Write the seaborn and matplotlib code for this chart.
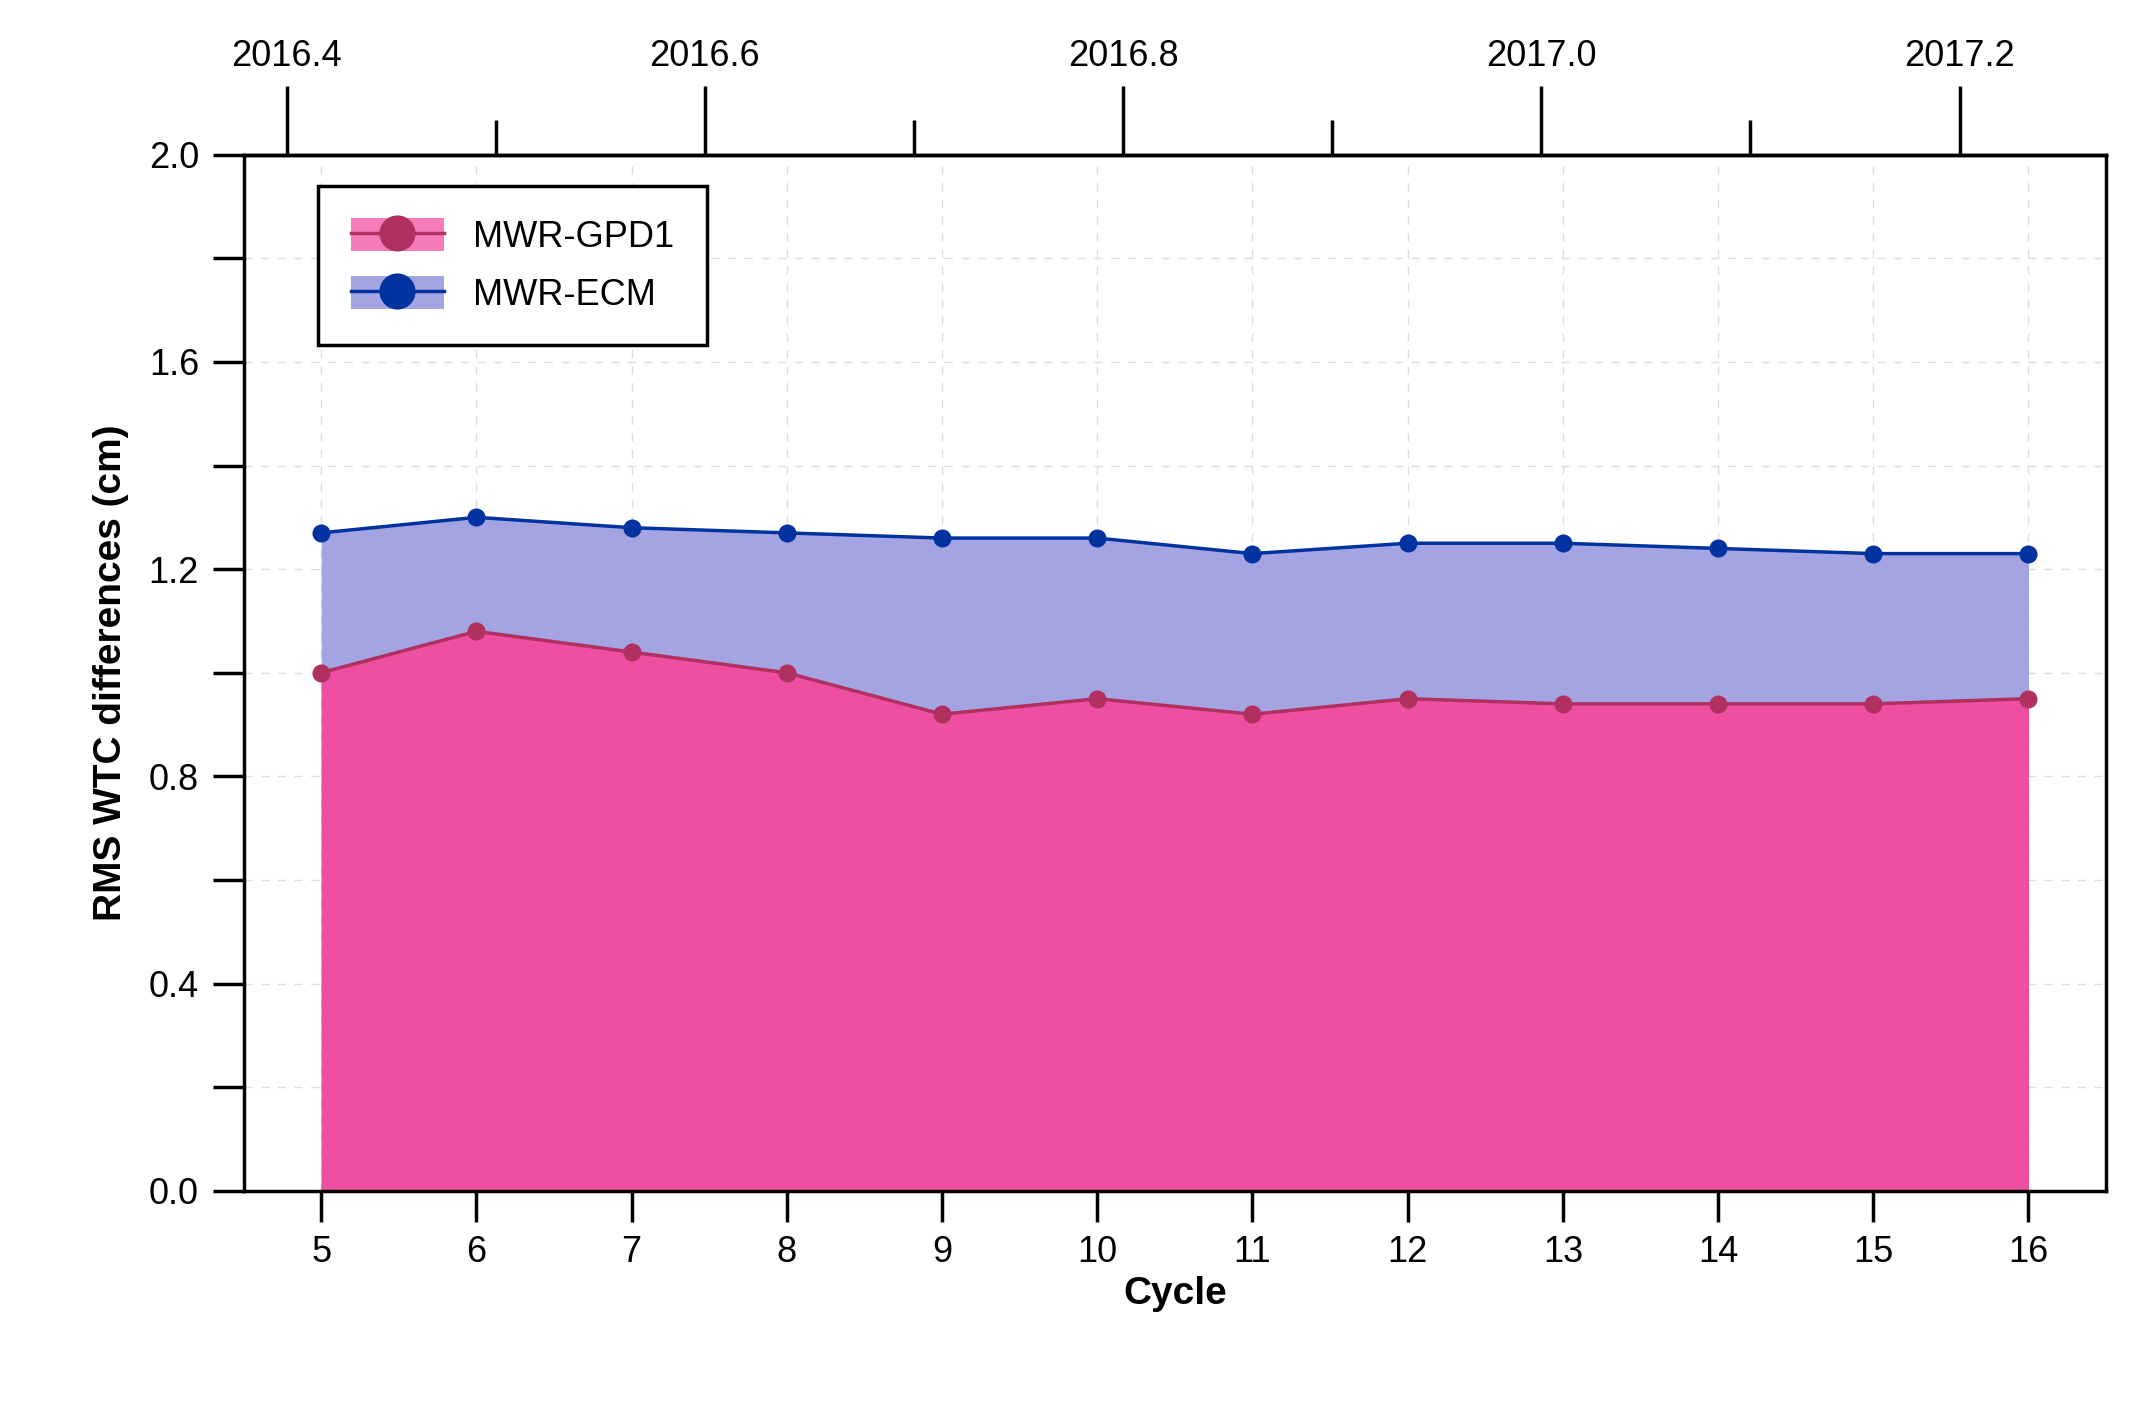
import matplotlib
matplotlib.use("Agg")
import matplotlib.pyplot as plt
import seaborn as sns
import pandas as pd
import numpy as np
from matplotlib.patches import Patch
from matplotlib.lines import Line2D
from matplotlib.ticker import MultipleLocator

cycles = [5, 6, 7, 8, 9, 10, 11, 12, 13, 14, 15, 16]
rms_ecm = [1.27, 1.30, 1.28, 1.27, 1.26, 1.26, 1.23, 1.25, 1.25, 1.24, 1.23, 1.23]
rms_gpd1 = [1.00, 1.08, 1.04, 1.00, 0.92, 0.95, 0.92, 0.95, 0.94, 0.94, 0.94, 0.95]
top_ticks = [2016.4, 2016.6, 2016.8, 2017.0, 2017.2]

df = pd.DataFrame({"cycle": cycles, "ecm": rms_ecm, "gpd1": rms_gpd1})

plt.rcParams["font.family"] = "Liberation Sans"
fig = plt.figure(figsize=(21.36, 14.06), dpi=100)
ax = fig.add_axes([0.114, 0.153, 0.872, 0.737])

ax.fill_between(df["cycle"], 0, df["ecm"], color="#A4A4E3", lw=0, zorder=1)
ax.fill_between(df["cycle"], 0, df["gpd1"], color="#EF4FA0", lw=0, zorder=2)
sns.lineplot(data=df, x="cycle", y="ecm", ax=ax, color="#0033A0", lw=2.5,
             marker="o", markersize=13, markeredgewidth=0, zorder=4)
sns.lineplot(data=df, x="cycle", y="gpd1", ax=ax, color="#B03060", lw=2.5,
             marker="o", markersize=13, markeredgewidth=0, zorder=4)

ax.set_xlim(4.5, 16.5)
ax.set_ylim(0, 2.0)
ax.set_xticks(cycles)
ax.yaxis.set_major_locator(MultipleLocator(0.4))
ax.yaxis.set_minor_locator(MultipleLocator(0.2))
ax.grid(True, which="both", axis="y", ls=(0, (6, 6)), color="#DDDDDD", lw=1, zorder=0)
ax.grid(True, which="major", axis="x", ls=(0, (6, 6)), color="#DDDDDD", lw=1, zorder=0)
ax.set_axisbelow(True)
ax.yaxis.set_major_formatter(matplotlib.ticker.FormatStrFormatter("%.1f"))
ax.tick_params(axis="both", which="major", labelsize=26, length=22, width=2.5, direction="out", pad=10)
ax.tick_params(axis="y", which="minor", length=22, width=2.5, direction="out")
for s in ax.spines.values():
    s.set_linewidth(2.5)
ax.set_xlabel("Cycle", fontsize=28, fontweight="bold", labelpad=4)
ax.set_ylabel("RMS WTC differences (cm)", fontsize=28, fontweight="bold", labelpad=14)

# top year axis: cycle x -> year
def c2y(c):
    return 2016.4 + ((233 + (c - 5) * 112.45) - 208) / 1515.0
def y2c(y):
    return 5 + ((y - 2016.4) * 1515.0 + 208 - 233) / 112.45

top = ax.secondary_xaxis("top", functions=(c2y, y2c))
top.set_xticks(top_ticks)
top.set_xticks(np.arange(2016.3, 2017.35, 0.1), minor=True)
top.xaxis.set_major_formatter(matplotlib.ticker.FormatStrFormatter("%.1f"))
top.tick_params(which="major", labelsize=26, length=50, width=2.5, pad=8)
top.tick_params(which="minor", length=25, width=2.5)
top.spines["top"].set_linewidth(2.5)

handles = [
    (Patch(facecolor="#F57CB8", edgecolor="none"),
     Line2D([], [], color="#B03060", lw=2.5, marker="o", markersize=26, markeredgewidth=0)),
    (Patch(facecolor="#A4A4E3", edgecolor="none"),
     Line2D([], [], color="#0033A0", lw=2.5, marker="o", markersize=26, markeredgewidth=0)),
]
leg = ax.legend(handles, ["MWR-GPD1", "MWR-ECM"], loc="upper left",
                bbox_to_anchor=(0.04, 0.97), fontsize=26, frameon=True, fancybox=False,
                edgecolor="black", handlelength=2.6, handleheight=1.0, borderpad=0.9,
                labelspacing=0.6, borderaxespad=0)
leg.get_frame().set_linewidth(2.5)
leg.get_frame().set_alpha(1)

fig.savefig("out.png", dpi=100)
